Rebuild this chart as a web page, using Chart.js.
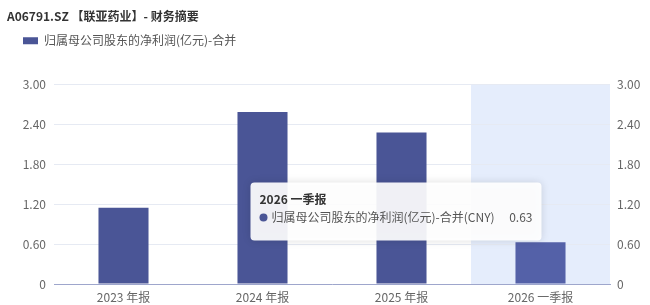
<!DOCTYPE html>
<html>
<head>
<meta charset="utf-8">
<script src="https://cdn.jsdelivr.net/npm/chart.js@4/dist/chart.umd.min.js"></script>
<style>
    html, body { margin: 0; padding: 0; background: #fff; }
    #wrap { width: 650px; height: 305px; position: relative; }
</style>
</head>
<body>
<div id="wrap"><canvas id="grafico"></canvas></div>
<script>
var periodos = ['2023 年报', '2024 年报', '2025 年报', '2026 一季报'];
var beneficio = [1.15, 2.59, 2.28, 0.63];
var ticksY = [0, 0.6, 1.2, 1.8, 2.4, 3.0];
var serieNombre = '归属母公司股东的净利润(亿元)-合并';
var indiceActivo = 3;

var fuente = "'Noto Sans CJK SC', 'Noto Sans', sans-serif";

var colores = periodos.map(function (p, i) {
    return i === indiceActivo ? '#5461a8' : '#4a5596';
});

// más espacio debajo de la leyenda; título y leyenda algo desplazados a la derecha
var ajusteLeyenda = {
    id: 'ajusteLeyenda',
    beforeInit: function (chart) {
        var fitOriginal = chart.legend.fit;
        chart.legend.fit = function () {
            fitOriginal.bind(chart.legend)();
            this.height += 28;
        };
    },
    afterLayout: function (chart) {
        chart.legend.left = 13;
        if (chart.titleBlock) {
            var w = chart.titleBlock.right - chart.titleBlock.left;
            chart.titleBlock.left = 7;
            chart.titleBlock.right = 7 + w;
        }
    }
};

// banda resaltada detrás de la categoría activa
var bandaActiva = {
    id: 'bandaActiva',
    beforeDraw: function (chart) {
        var x = chart.scales.x;
        var area = chart.chartArea;
        var ancho = (area.right - area.left) / periodos.length;
        var cx = x.getPixelForValue(indiceActivo);
        var ctx = chart.ctx;
        ctx.save();
        ctx.fillStyle = '#e5edfc';
        ctx.fillRect(cx - ancho / 2, area.top, ancho, area.bottom - area.top);
        ctx.restore();
    }
};

// cuadro de información fijo
var cuadroInfo = {
    id: 'cuadroInfo',
    afterDraw: function (chart) {
        var ctx = chart.ctx;
        var el = chart.getDatasetMeta(0).data[indiceActivo];
        var y = chart.scales.y;
        var derecha = el.x + 1;
        var ancho = 291;
        var alto = 58;
        var izq = derecha - ancho;
        var arriba = y.getPixelForValue(1.53);

        ctx.save();
        ctx.shadowColor = 'rgba(0,0,0,0.15)';
        ctx.shadowBlur = 8;
        ctx.fillStyle = 'rgba(255,255,255,0.92)';
        ctx.beginPath();
        ctx.roundRect(izq, arriba, ancho, alto, 4);
        ctx.fill();
        ctx.restore();

        ctx.save();
        ctx.textBaseline = 'middle';
        ctx.fillStyle = '#333';
        ctx.font = 'bold 12px ' + fuente;
        ctx.fillText(periodos[indiceActivo], izq + 9, arriba + 17);

        ctx.fillStyle = colores[0];
        ctx.beginPath();
        ctx.arc(izq + 13, arriba + 35, 4, 0, Math.PI * 2);
        ctx.fill();

        ctx.fillStyle = '#555';
        ctx.font = '12px ' + fuente;
        ctx.fillText(serieNombre + '(CNY)', izq + 21, arriba + 35);
        ctx.textAlign = 'right';
        ctx.fillText(beneficio[indiceActivo].toFixed(2), derecha - 9, arriba + 35);
        ctx.restore();
    }
};

function etiquetaY(valor) {
    return valor === 0 ? '0' : valor.toFixed(2);
}

var ctx = document.getElementById('grafico');
new Chart(ctx, {
    type: 'bar',
    data: {
        labels: periodos,
        datasets: [{
            label: serieNombre,
            data: beneficio,
            backgroundColor: colores,
            borderWidth: 0,
            barPercentage: 0.36,
            categoryPercentage: 1,
            yAxisID: 'y'
        }]
    },
    options: {
        responsive: true,
        maintainAspectRatio: false,
        animation: false,
        layout: {
            padding: { left: 4, right: 8, top: 7, bottom: 2 }
        },
        plugins: {
            title: {
                display: true,
                text: 'A06791.SZ 【联亚药业】- 财务摘要',
                align: 'start',
                color: '#333',
                font: { family: fuente, size: 12, weight: 'bold' },
                padding: { top: 2, bottom: 1.4 }
            },
            legend: {
                display: true,
                align: 'start',
                labels: {
                    boxWidth: 15,
                    boxHeight: 7,
                    color: '#555',
                    padding: 10,
                    font: { family: fuente, size: 12 }
                }
            },
            tooltip: { enabled: false }
        },
        scales: {
            x: {
                grid: { display: false, drawTicks: false },
                border: { color: '#9ea6cc', width: 1 },
                afterFit: function (eje) {
                    eje.height = 19;
                },
                ticks: {
                    color: '#666',
                    padding: 7,
                    font: { family: fuente, size: 12, lineHeight: 1 }
                }
            },
            y: {
                position: 'left',
                min: 0,
                max: 3,
                afterBuildTicks: function (eje) {
                    eje.ticks = ticksY.map(function (v) { return { value: v }; });
                },
                afterFit: function (eje) {
                    eje.width = 50;
                },
                grid: { color: '#e6eaf3', drawTicks: false },
                border: { display: false },
                ticks: {
                    color: '#666',
                    padding: 8,
                    font: { family: fuente, size: 12 },
                    callback: etiquetaY
                }
            },
            y2: {
                position: 'right',
                min: 0,
                max: 3,
                afterBuildTicks: function (eje) {
                    eje.ticks = ticksY.map(function (v) { return { value: v }; });
                },
                afterFit: function (eje) {
                    eje.width = 32;
                },
                grid: { display: false, drawTicks: false },
                border: { display: false },
                ticks: {
                    color: '#666',
                    padding: 7,
                    font: { family: fuente, size: 12 },
                    callback: etiquetaY
                }
            }
        }
    },
    plugins: [ajusteLeyenda, bandaActiva, cuadroInfo]
});
</script>
</body>
</html>
